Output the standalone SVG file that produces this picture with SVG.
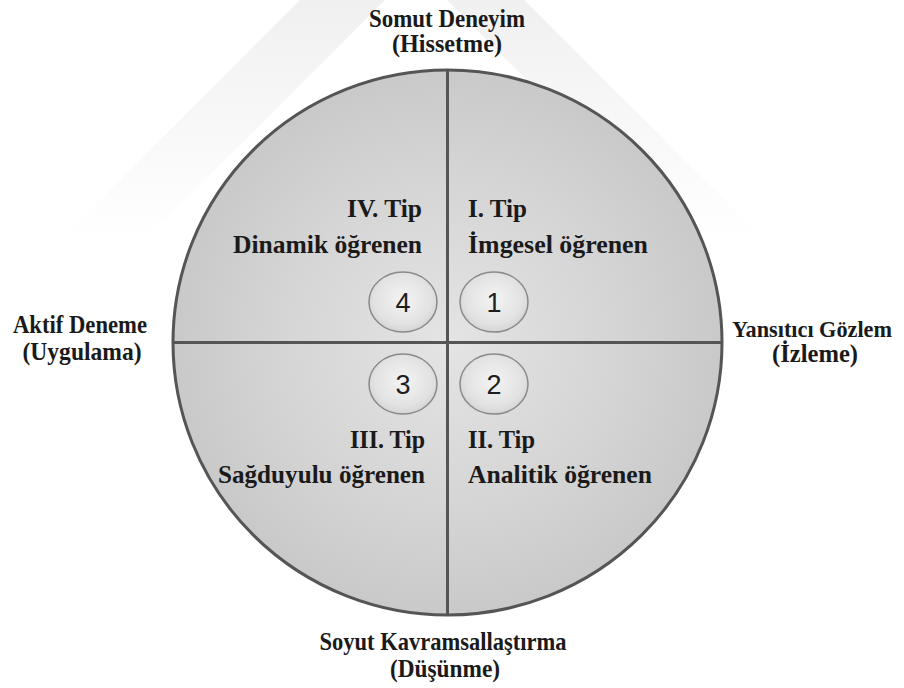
<svg xmlns="http://www.w3.org/2000/svg" width="904" height="688" viewBox="0 0 904 688">
  <defs>
    <radialGradient id="bigFill" cx="447.5" cy="342.5" r="275" gradientUnits="userSpaceOnUse">
      <stop offset="0" stop-color="#e4e4e4"/>
      <stop offset="0.6" stop-color="#d5d5d5"/>
      <stop offset="1" stop-color="#c9c9c9"/>
    </radialGradient>
    <radialGradient id="badgeFill" cx="0.5" cy="0.45" r="0.6">
      <stop offset="0" stop-color="#f4f4f4"/>
      <stop offset="0.7" stop-color="#e2e2e2"/>
      <stop offset="1" stop-color="#cfcfcf"/>
    </radialGradient>
    <linearGradient id="wmFade" x1="0" y1="0" x2="0" y2="240" gradientUnits="userSpaceOnUse">
      <stop offset="0" stop-color="#f0f0f0" stop-opacity="1"/>
      <stop offset="1" stop-color="#f0f0f0" stop-opacity="0"/>
    </linearGradient>
  </defs>
  <style>
    .lbl { font-family: "Liberation Serif", "Times New Roman", serif; font-weight: bold; font-size: 25px; fill: #1a1a1a; }
    .sm { font-size: 24px; }
    .mid { text-anchor: middle; }
    .end { text-anchor: end; }
    .num { font-family: "Liberation Sans", Arial, sans-serif; font-size: 27px; fill: #1e1e1e; text-anchor: middle; }
    .badge { fill: url(#badgeFill); stroke: #8a8a8a; stroke-width: 1.5; }
    .axis { stroke: #555; stroke-width: 3; fill: none; }
  </style>

  <rect x="0" y="0" width="904" height="688" fill="#ffffff"/>

  <g id="watermark">
    <polygon points="412,-112 -100,400 -15,400 416,-31 847,400 925,400" fill="url(#wmFade)"/>
  </g>

  <g id="cycle">
    <ellipse cx="447.5" cy="342.5" rx="274.5" ry="272.5" fill="url(#bigFill)" stroke="#555" stroke-width="3"/>
  </g>

  <g id="connectors">
    <line class="axis" x1="447.5" y1="70" x2="447.5" y2="615"/>
    <line class="axis" x1="173" y1="342.5" x2="722" y2="342.5"/>
  </g>

  <g id="badge-4">
    <ellipse class="badge" cx="403" cy="302" rx="34" ry="30"/>
    <text class="num" x="403" y="311.5">4</text>
  </g>
  <g id="badge-1">
    <ellipse class="badge" cx="494" cy="302" rx="34" ry="30"/>
    <text class="num" x="494" y="311.5">1</text>
  </g>
  <g id="badge-3">
    <ellipse class="badge" cx="403" cy="384" rx="34" ry="30"/>
    <text class="num" x="403" y="393.5">3</text>
  </g>
  <g id="badge-2">
    <ellipse class="badge" cx="494" cy="384" rx="34" ry="30"/>
    <text class="num" x="494" y="393.5">2</text>
  </g>

  <g id="label-top">
    <text class="lbl mid" x="447" y="27" textLength="156" lengthAdjust="spacingAndGlyphs">Somut Deneyim</text>
    <text class="lbl mid" x="447" y="52" textLength="110" lengthAdjust="spacingAndGlyphs">(Hissetme)</text>
  </g>
  <g id="label-left">
    <text class="lbl mid" x="80" y="333" textLength="134" lengthAdjust="spacingAndGlyphs">Aktif Deneme</text>
    <text class="lbl mid" x="82" y="360" textLength="119" lengthAdjust="spacingAndGlyphs">(Uygulama)</text>
  </g>
  <g id="label-right">
    <text class="lbl sm mid" x="812" y="337" textLength="160" lengthAdjust="spacingAndGlyphs">Yansıtıcı Gözlem</text>
    <text class="lbl mid" x="815" y="362" textLength="86" lengthAdjust="spacingAndGlyphs">(İzleme)</text>
  </g>
  <g id="label-bottom">
    <text class="lbl mid" x="443" y="650" textLength="247" lengthAdjust="spacingAndGlyphs">Soyut Kavramsallaştırma</text>
    <text class="lbl mid" x="445" y="677" textLength="110" lengthAdjust="spacingAndGlyphs">(Düşünme)</text>
  </g>

  <g id="type-4">
    <text class="lbl end" x="422" y="217" textLength="75" lengthAdjust="spacingAndGlyphs">IV. Tip</text>
    <text class="lbl end" x="422" y="253" textLength="189" lengthAdjust="spacingAndGlyphs">Dinamik öğrenen</text>
  </g>
  <g id="type-1">
    <text class="lbl" x="468" y="217" textLength="59" lengthAdjust="spacingAndGlyphs">I. Tip</text>
    <text class="lbl" x="468" y="253" textLength="180" lengthAdjust="spacingAndGlyphs">İmgesel öğrenen</text>
  </g>
  <g id="type-3">
    <text class="lbl end" x="425" y="448" textLength="75" lengthAdjust="spacingAndGlyphs">III. Tip</text>
    <text class="lbl end" x="425" y="483" textLength="207" lengthAdjust="spacingAndGlyphs">Sağduyulu öğrenen</text>
  </g>
  <g id="type-2">
    <text class="lbl" x="468" y="448" textLength="67" lengthAdjust="spacingAndGlyphs">II. Tip</text>
    <text class="lbl" x="468" y="483" textLength="184" lengthAdjust="spacingAndGlyphs">Analitik öğrenen</text>
  </g>
</svg>
